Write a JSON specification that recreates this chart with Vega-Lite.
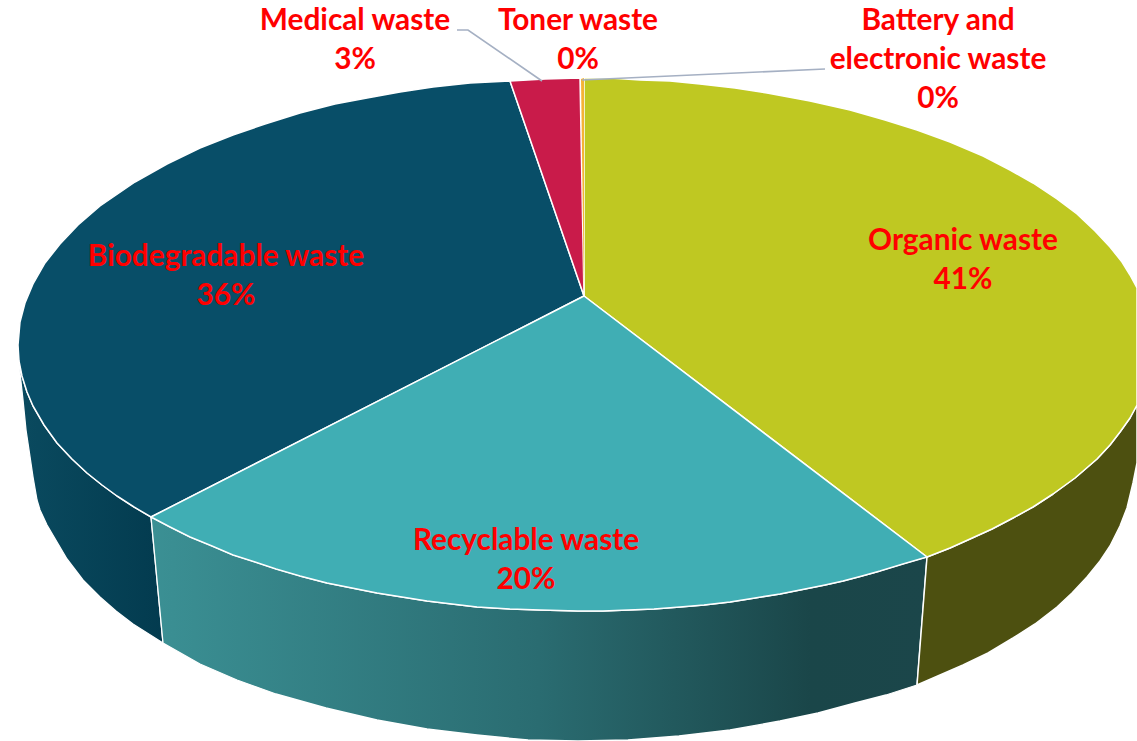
{"$schema":"https://vega.github.io/schema/vega-lite/v6.json","width":1137,"height":741,"padding":0,"autosize":{"type":"none"},"background":"white","view":{"stroke":null},
"datasets":{
"wallBiodegradable":[
{"x":19,"y":361},{"x":22,"y":376},{"x":27,"y":392},{"x":33,"y":406},{"x":44,"y":425},{"x":57,"y":443},{"x":72,"y":459},{"x":87,"y":473},{"x":102,"y":485},{"x":117,"y":496},{"x":134,"y":507},{"x":151,"y":517},
{"x":163,"y":643},{"x":133,"y":624},{"x":116,"y":611},{"x":100,"y":597},{"x":83,"y":580},{"x":67,"y":559},{"x":57,"y":542},{"x":47,"y":525},{"x":40,"y":510},{"x":37,"y":500},{"x":33,"y":477},{"x":29,"y":450},{"x":26,"y":430},{"x":23,"y":400},{"x":20,"y":373},{"x":19,"y":361}],
"wallRecyclable":[
{"x":151,"y":517},{"x":170,"y":527},{"x":190,"y":537},{"x":212,"y":546},{"x":233,"y":555},{"x":255,"y":562},{"x":276,"y":569},{"x":300,"y":576},{"x":327,"y":583},{"x":352,"y":588},{"x":377,"y":593},{"x":402,"y":597},{"x":427,"y":601},{"x":452,"y":604},{"x":477,"y":607},{"x":510,"y":609},{"x":540,"y":610},{"x":578,"y":611},{"x":603,"y":611},{"x":654,"y":609},{"x":680,"y":607},{"x":704,"y":605},{"x":730,"y":602},{"x":755,"y":598},{"x":780,"y":594},{"x":805,"y":589},{"x":825,"y":585},{"x":843,"y":581},{"x":862,"y":576},{"x":880,"y":571},{"x":903,"y":564},{"x":927,"y":557},
{"x":917,"y":685},{"x":886,"y":695},{"x":855,"y":703},{"x":818,"y":713},{"x":780,"y":721},{"x":730,"y":730},{"x":679,"y":736},{"x":628,"y":740},{"x":578,"y":741},{"x":528,"y":740},{"x":477,"y":735},{"x":427,"y":729},{"x":377,"y":720},{"x":326,"y":708},{"x":276,"y":694},{"x":237,"y":680},{"x":200,"y":664},{"x":163,"y":643},{"x":151,"y":517}],
"outline":[
{"part":"wall organic","x":927,"y":557},{"part":"wall organic","x":950,"y":548},{"part":"wall organic","x":970,"y":539},{"part":"wall organic","x":992,"y":529},{"part":"wall organic","x":1013,"y":518},{"part":"wall organic","x":1033,"y":507},{"part":"wall organic","x":1053,"y":494},{"part":"wall organic","x":1075,"y":478},{"part":"wall organic","x":1097,"y":459},{"part":"wall organic","x":1110,"y":445},{"part":"wall organic","x":1120,"y":432},{"part":"wall organic","x":1130,"y":418},{"part":"wall organic","x":1137,"y":405},
{"part":"wall organic","x":1137,"y":463},{"part":"wall organic","x":1133,"y":483},{"part":"wall organic","x":1127,"y":508},{"part":"wall organic","x":1120,"y":526},{"part":"wall organic","x":1110,"y":546},{"part":"wall organic","x":1100,"y":561},{"part":"wall organic","x":1087,"y":577},{"part":"wall organic","x":1072,"y":593},{"part":"wall organic","x":1057,"y":607},{"part":"wall organic","x":1035,"y":624},{"part":"wall organic","x":1013,"y":638},{"part":"wall organic","x":988,"y":653},{"part":"wall organic","x":963,"y":665},{"part":"wall organic","x":940,"y":675},{"part":"wall organic","x":917,"y":685},{"part":"wall organic","x":927,"y":557},
{"part":"top organic","x":584,"y":296},{"part":"top organic","x":927,"y":557},{"part":"top organic","x":950,"y":548},{"part":"top organic","x":970,"y":539},{"part":"top organic","x":992,"y":529},{"part":"top organic","x":1013,"y":518},{"part":"top organic","x":1033,"y":507},{"part":"top organic","x":1053,"y":494},{"part":"top organic","x":1075,"y":478},{"part":"top organic","x":1097,"y":459},{"part":"top organic","x":1110,"y":445},{"part":"top organic","x":1120,"y":432},{"part":"top organic","x":1130,"y":418},{"part":"top organic","x":1137,"y":405},{"part":"top organic","x":1137,"y":288},{"part":"top organic","x":1130,"y":275},{"part":"top organic","x":1122,"y":262},{"part":"top organic","x":1110,"y":247},{"part":"top organic","x":1095,"y":231},{"part":"top organic","x":1077,"y":214},{"part":"top organic","x":1057,"y":199},{"part":"top organic","x":1033,"y":183},{"part":"top organic","x":1010,"y":170},{"part":"top organic","x":983,"y":156},{"part":"top organic","x":950,"y":142},{"part":"top organic","x":917,"y":130},{"part":"top organic","x":885,"y":120},{"part":"top organic","x":850,"y":110},{"part":"top organic","x":810,"y":101},{"part":"top organic","x":767,"y":93},{"part":"top organic","x":735,"y":88},{"part":"top organic","x":700,"y":84},{"part":"top organic","x":670,"y":81},{"part":"top organic","x":640,"y":80},{"part":"top organic","x":610,"y":78},{"part":"top organic","x":584,"y":78},{"part":"top organic","x":584,"y":296},
{"part":"top biodegradable","x":584,"y":296},{"part":"top biodegradable","x":510,"y":81},{"part":"top biodegradable","x":470,"y":83},{"part":"top biodegradable","x":433,"y":87},{"part":"top biodegradable","x":400,"y":92},{"part":"top biodegradable","x":367,"y":98},{"part":"top biodegradable","x":335,"y":104},{"part":"top biodegradable","x":300,"y":113},{"part":"top biodegradable","x":265,"y":124},{"part":"top biodegradable","x":233,"y":135},{"part":"top biodegradable","x":200,"y":148},{"part":"top biodegradable","x":167,"y":164},{"part":"top biodegradable","x":135,"y":182},{"part":"top biodegradable","x":100,"y":206},{"part":"top biodegradable","x":78,"y":225},{"part":"top biodegradable","x":60,"y":244},{"part":"top biodegradable","x":45,"y":263},{"part":"top biodegradable","x":33,"y":284},{"part":"top biodegradable","x":25,"y":303},{"part":"top biodegradable","x":20,"y":322},{"part":"top biodegradable","x":18,"y":345},{"part":"top biodegradable","x":19,"y":361},{"part":"top biodegradable","x":22,"y":376},{"part":"top biodegradable","x":27,"y":392},{"part":"top biodegradable","x":33,"y":406},{"part":"top biodegradable","x":44,"y":425},{"part":"top biodegradable","x":57,"y":443},{"part":"top biodegradable","x":72,"y":459},{"part":"top biodegradable","x":87,"y":473},{"part":"top biodegradable","x":102,"y":485},{"part":"top biodegradable","x":117,"y":496},{"part":"top biodegradable","x":134,"y":507},{"part":"top biodegradable","x":151,"y":517},{"part":"top biodegradable","x":584,"y":296},
{"part":"top recyclable","x":584,"y":296},{"part":"top recyclable","x":151,"y":517},{"part":"top recyclable","x":170,"y":527},{"part":"top recyclable","x":190,"y":537},{"part":"top recyclable","x":212,"y":546},{"part":"top recyclable","x":233,"y":555},{"part":"top recyclable","x":255,"y":562},{"part":"top recyclable","x":276,"y":569},{"part":"top recyclable","x":300,"y":576},{"part":"top recyclable","x":327,"y":583},{"part":"top recyclable","x":352,"y":588},{"part":"top recyclable","x":377,"y":593},{"part":"top recyclable","x":402,"y":597},{"part":"top recyclable","x":427,"y":601},{"part":"top recyclable","x":452,"y":604},{"part":"top recyclable","x":477,"y":607},{"part":"top recyclable","x":510,"y":609},{"part":"top recyclable","x":540,"y":610},{"part":"top recyclable","x":578,"y":611},{"part":"top recyclable","x":603,"y":611},{"part":"top recyclable","x":654,"y":609},{"part":"top recyclable","x":680,"y":607},{"part":"top recyclable","x":704,"y":605},{"part":"top recyclable","x":730,"y":602},{"part":"top recyclable","x":755,"y":598},{"part":"top recyclable","x":780,"y":594},{"part":"top recyclable","x":805,"y":589},{"part":"top recyclable","x":825,"y":585},{"part":"top recyclable","x":843,"y":581},{"part":"top recyclable","x":862,"y":576},{"part":"top recyclable","x":880,"y":571},{"part":"top recyclable","x":903,"y":564},{"part":"top recyclable","x":927,"y":557},{"part":"top recyclable","x":584,"y":296},
{"part":"top medical","x":584,"y":296},{"part":"top medical","x":510,"y":81},{"part":"top medical","x":545,"y":79},{"part":"top medical","x":580,"y":78},{"part":"top medical","x":584,"y":296}],
"battery":[{"x":584,"y":296},{"x":581,"y":79},{"x":584,"y":78},{"x":584,"y":296}],
"leaders":[{"part":"leader medical","x":457,"y":30},{"part":"leader medical","x":468,"y":30},{"part":"leader medical","x":542,"y":81},{"part":"leader battery","x":825,"y":69},{"part":"leader battery","x":582,"y":80}],
"labels":[
{"slice":"Organic waste","share":41,"label":"Organic waste\n41%","x":963,"y":250},
{"slice":"Biodegradable waste","share":36,"label":"Biodegradable waste\n36%","x":226,"y":266},
{"slice":"Recyclable waste","share":20,"label":"Recyclable waste\n20%","x":526,"y":550},
{"slice":"Medical waste","share":3,"label":"Medical waste\n3%","x":355,"y":30},
{"slice":"Toner waste","share":0,"label":"Toner waste\n0%","x":578,"y":30},
{"slice":"Battery and electronic waste","share":0,"label":"Battery and\nelectronic waste\n0%","x":938,"y":30}
]},
"encoding":{
"x":{"field":"x","type":"quantitative","axis":null,"scale":{"domain":[0,1137],"nice":false,"zero":false}},
"y":{"field":"y","type":"quantitative","axis":null,"scale":{"domain":[741,0],"nice":false,"zero":false}}
},
"layer":[
{"data":{"name":"wallBiodegradable"},
"mark":{"type":"line","filled":true,"strokeWidth":1.3,"stroke":"#ffffff","strokeJoin":"round","fill":{"gradient":"linear","x1":0,"y1":0,"x2":1,"y2":0,"stops":[{"offset":0,"color":"#0A4A5F"},{"offset":1,"color":"#033B4F"}]}},
"encoding":{"order":{"value":null}}},
{"data":{"name":"wallRecyclable"},
"mark":{"type":"line","filled":true,"strokeWidth":1.3,"stroke":"#ffffff","strokeJoin":"round","fill":{"gradient":"linear","x1":0,"y1":0,"x2":1,"y2":0,"stops":[{"offset":0,"color":"#3B9094"},{"offset":0.5,"color":"#2A6C71"},{"offset":0.85,"color":"#1A4649"},{"offset":1,"color":"#1B464A"}]}},
"encoding":{"order":{"value":null}}},
{"data":{"name":"outline"},
"mark":{"type":"line","filled":true,"strokeWidth":1.5,"stroke":"#ffffff","strokeJoin":"round"},
"encoding":{"order":{"value":null},"detail":{"field":"part"},"fill":{"field":"part","type":"nominal","legend":null,"scale":{"domain":["wall organic","top organic","top biodegradable","top recyclable","top medical"],"range":["#4D5010","#BFC822","#084E68","#40AEB4","#C91B4A"]}}}},
{"data":{"name":"battery"},
"mark":{"type":"line","filled":true,"fill":"#F5B335","stroke":null},
"encoding":{"order":{"value":null}}},
{"data":{"name":"leaders"},
"mark":{"type":"line","stroke":"#A5B0C3","strokeWidth":1.6},
"encoding":{"order":{"value":null},"detail":{"field":"part"}}},
{"data":{"name":"labels"},
"mark":{"type":"text","font":"Lato","fontWeight":"bold","fontSize":29.8,"color":"#FF0000","align":"center","baseline":"alphabetic","lineBreak":"\n","lineHeight":39},
"encoding":{"text":{"field":"label"}}}
]}
